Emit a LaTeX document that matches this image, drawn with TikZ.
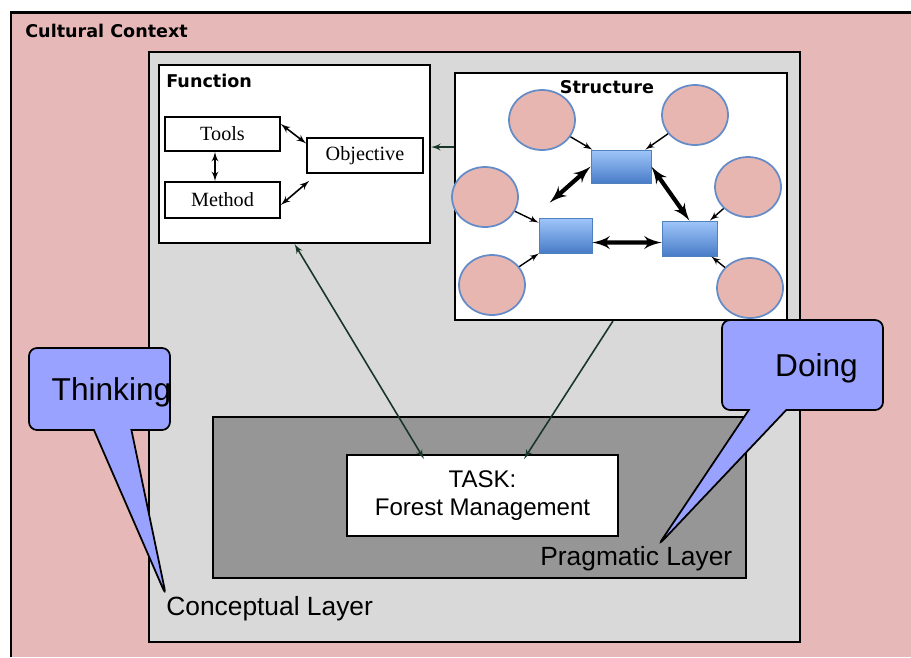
\documentclass[tikz,border=0pt]{standalone}
\usepackage{fontspec}
\setmainfont{Liberation Sans}
\newfontfamily\headfont{DejaVu Sans}
\newfontfamily\boxfont{Liberation Serif}
\usepackage{xcolor}
\usepackage{tikz}
\usetikzlibrary{shapes,arrows}
\definecolor{culture}{RGB}{230,185,184}
\definecolor{concept}{RGB}{217,217,217}
\definecolor{pragma}{RGB}{150,150,150}
\definecolor{talk}{RGB}{153,163,255}
\definecolor{peerfill}{RGB}{232,182,176}
\definecolor{peerline}{RGB}{100,140,200}
\definecolor{parttop}{RGB}{160,198,250}
\definecolor{partbot}{RGB}{72,124,200}
\definecolor{partline}{RGB}{79,129,189}
\definecolor{linkcol}{RGB}{25,55,40}
\tikzstyle{panel} = [rectangle, draw, line width=1.1pt, inner sep=0pt]
\tikzstyle{head} = [font=\headfont\bfseries\fontsize{10}{12}\selectfont, inner sep=0pt]
\tikzstyle{sub} = [rectangle, draw, fill=white, line width=0.9pt, font=\boxfont\fontsize{11.5}{13}\selectfont, inner sep=0pt]
\tikzstyle{peer} = [ellipse, draw=peerline, fill=peerfill, line width=1pt, minimum width=1.32cm, minimum height=1.2cm, inner sep=0pt]
\tikzstyle{part} = [rectangle, draw=partline, top color=parttop, bottom color=partbot, inner sep=0pt]
\tikzstyle{tie} = [draw, -latex', line width=0.8pt]
\tikzstyle{pair} = [draw, latex'-latex', line width=0.9pt]
\tikzstyle{bond} = [draw, latex'-latex', line width=2.4pt]
\tikzstyle{link} = [draw, color=linkcol, line width=0.9pt]
\tikzstyle{bubble} = [rectangle callout, draw, fill=talk, line width=1pt, rounded corners=0.16cm, callout pointer width=0.75cm, font=\fontsize{18}{20}\selectfont, text depth=0pt, inner sep=0pt]
\tikzstyle{layername} = [font=\fontsize{15}{17}\selectfont, inner sep=0pt, anchor=base west]

\begin{document}
\begin{tikzpicture}[x=0.02cm, y=-0.02cm]
\useasboundingbox (0,0) rectangle (911,657);
\fill[culture] (11,12) rectangle (911,657);
\draw[line width=1.7pt] (11,657) -- (11,12) -- (911,12);
\node[head, anchor=west] (cultural) at (25,31) {Cultural Context};

% layers
\node[panel, fill=concept, minimum width=13.02cm, minimum height=11.8cm] (concept) at (474.5,347) {};
\node[panel, fill=pragma, minimum width=10.66cm, minimum height=3.22cm] (pragma) at (479.5,497.5) {};
\node[panel, fill=white, minimum width=5.42cm, minimum height=1.62cm, align=center, font=\fontsize{13.7}{15.5}\selectfont] (task) at (482.5,495.5) {TASK:\\Forest Management};

% function
\node[panel, fill=white, minimum width=5.42cm, minimum height=3.56cm] (function) at (294.5,154) {};
\node[head, anchor=north west] (functitle) at (166,74) {Function};
\node[sub, minimum width=2.3cm, minimum height=0.68cm] (tools) at (222.5,134) {Tools};
\node[sub, minimum width=2.3cm, minimum height=0.72cm] (method) at (222.5,200) {Method};
\node[sub, minimum width=2.32cm, minimum height=0.7cm] (objective) at (365,155.5) {Objective};

\path[pair] ([yshift=0.2cm]tools.east) -- ([yshift=0.24cm]objective.west);
\path[pair] ([yshift=-0.1cm]method.east) -- ([xshift=0.06cm,yshift=-0.14cm]objective.south west);
\path[pair] ([xshift=-0.15cm]tools.south) -- ([xshift=-0.15cm]method.north);

% structure
\node[panel, fill=white, minimum width=6.64cm, minimum height=4.94cm] (structure) at (621,196.5) {};
\node[head] (structitle) at (607,87) {Structure};
\node[peer] (peer1) at (542,120) {};
\node[peer] (peer2) at (695,115) {};
\node[peer] (peer3) at (485,197) {};
\node[peer] (peer4) at (748,187) {};
\node[peer] (peer5) at (492,285) {};
\node[peer] (peer6) at (750,288) {};
\node[part, minimum width=1.2cm, minimum height=0.66cm] (partA) at (621,166.5) {};
\node[part, minimum width=1.06cm, minimum height=0.7cm] (partB) at (565.5,235.5) {};
\node[part, minimum width=1.1cm, minimum height=0.7cm] (partC) at (689.5,238.5) {};

\path[tie] (peer1) -- (partA);
\path[tie] (peer2) -- (partA);
\path[tie] (peer3) -- (partB);
\path[tie] (peer5) -- (partB);
\path[tie] (peer4) -- (partC);
\path[tie] (peer6) -- (partC);
\path[bond] (partA.west) -- ([xshift=0.22cm,yshift=0.3cm]partB.north west);
\path[bond] (partA.east) -- (partC.north);
\path[bond] ([yshift=-0.14cm]partB.east) -- ([yshift=-0.08cm]partC.west);

% links to the task
\path[link, latex'-latex'] (function.south) -- ([xshift=1.56cm,yshift=-0.1cm]task.north west);
\path[link, -latex'] ([xshift=-0.16cm]structure.south) -- ([xshift=3.56cm,yshift=-0.1cm]task.north west);
\path[link, -latex'] ([yshift=-1.5cm]structure.north west) -- ([yshift=-1.5cm]structure.north west -| function.east);

% layer names and callouts
\node[layername] (conceptual) at (166,615) {Conceptual Layer};
\node[layername] (pragmatic) at (540,565) {Pragmatic Layer};
\node[bubble, minimum width=2.82cm, minimum height=1.64cm, callout absolute pointer={(conceptual.north west)}] (thinking) at (99.5,389) {\hspace*{0.24cm}Thinking\hspace*{-0.24cm}};
\node[bubble, minimum width=3.22cm, minimum height=1.8cm, callout absolute pointer={([xshift=2.36cm]pragmatic.north west)}] (doing) at (802.5,365) {\hspace*{0.28cm}Doing\hspace*{-0.28cm}};
\end{tikzpicture}
\end{document}
